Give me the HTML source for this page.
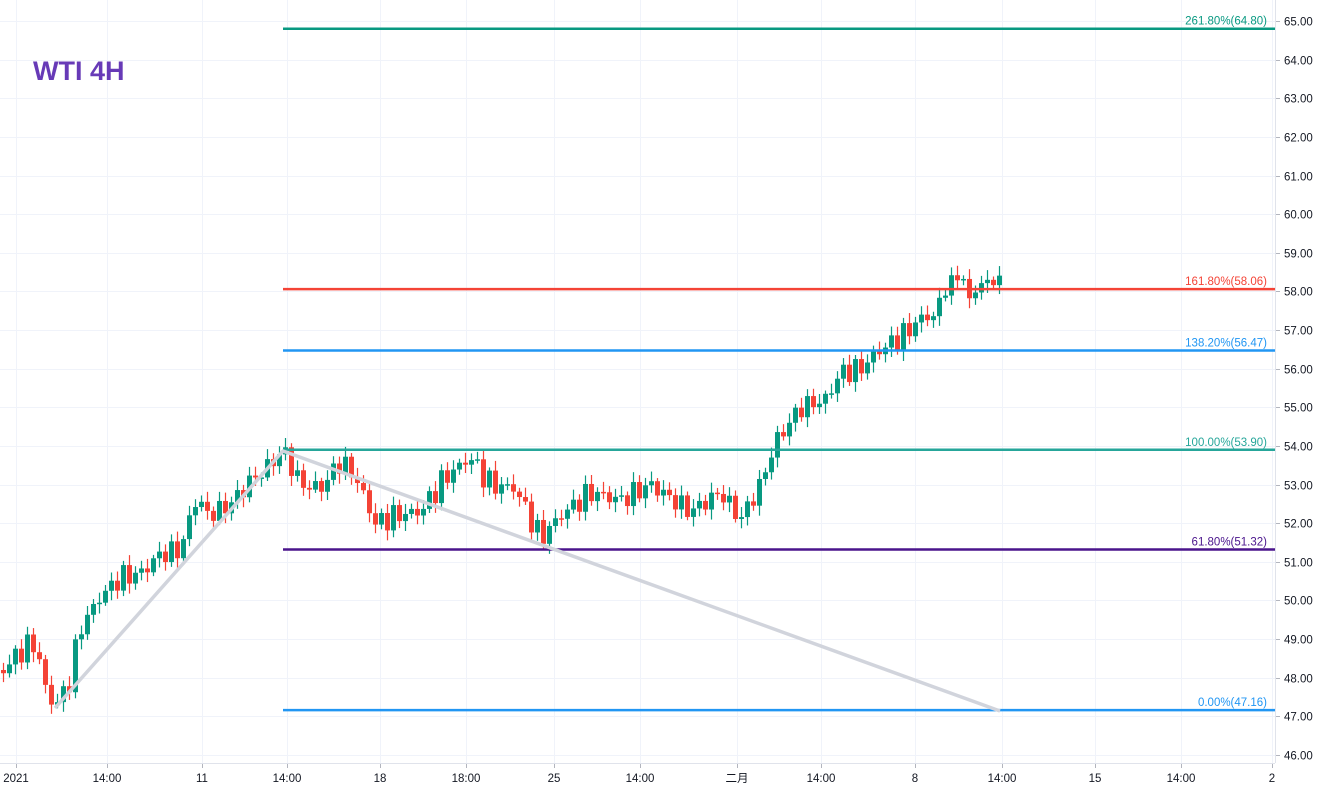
<!DOCTYPE html>
<html><head><meta charset="utf-8">
<style>
html,body{margin:0;padding:0;background:#fff;}
svg{display:block;font-family:"Liberation Sans","Noto Sans CJK SC",sans-serif;}
</style></head>
<body>
<svg id="c" width="1321" height="789" xmlns="http://www.w3.org/2000/svg">
<rect width="1321" height="789" fill="#fff"/>
<g id="grid" stroke="#f0f3fa" stroke-width="1"></g>
<g id="cand"></g>
<g id="fib"></g>
<polyline points="55,708 283,451 1000,711" fill="none" stroke="#d1d4dc" stroke-width="3.5" stroke-linejoin="round"/>
<line x1="1275.5" y1="0" x2="1275.5" y2="763" stroke="#e0e3eb"/>
<line x1="0" y1="763.5" x2="1275" y2="763.5" stroke="#e0e3eb"/>
<g id="axis" font-size="11.5" fill="#131722"></g>
<text x="33" y="80" font-size="27" font-weight="bold" fill="#673ab7">WTI 4H</text>
</svg>
<script>
var NS="http://www.w3.org/2000/svg";
function Y(p){return 21+(65-p)*38.63;}
function el(par,tag,at,txt){var e=document.createElementNS(NS,tag);for(var k in at)e.setAttribute(k,at[k]);if(txt!==undefined)e.textContent=txt;document.getElementById(par).appendChild(e);return e;}
for(var p=46;p<=65;p++){var y=Math.round(Y(p))+0.5;el("grid","line",{x1:0,x2:1275,y1:y,y2:y});
 el("axis","line",{x1:1276,x2:1280,y1:y,y2:y,stroke:"#b2b5be"});
 el("axis","text",{x:1284,y:y+4},p.toFixed(2));}
var xs=[[16,"2021"],[107,"14:00"],[202,"11"],[287,"14:00"],[380,"18"],[466,"18:00"],[554,"25"],[640,"14:00"],[737,"二月"],[821,"14:00"],[915,"8"],[1002,"14:00"],[1095,"15"],[1181,"14:00"],[1272,"2"]];
xs.forEach(function(a){var x=a[0]+0.5;el("grid","line",{x1:x,x2:x,y1:0,y2:763});
 el("axis","line",{x1:x,x2:x,y1:764,y2:768,stroke:"#b2b5be"});
 el("axis","text",{x:a[0],y:782,"text-anchor":"middle"},a[1]);});
var A=[[3,48.2],[20,48.7],[35,48.9],[47,47.5],[55,47.3],[68,47.8],[80,49.3],[100,50.1],[120,50.6],[140,50.7],[160,51.2],[180,51.3],[195,52.6],[210,52.2],[230,52.5],[250,53.1],[265,53.4],[283,53.9],[300,53],[320,52.9],[340,53.6],[355,53.2],[375,52],[395,52.2],[420,52.3],[445,53.2],[470,53.7],[490,53.0],[515,52.9],[540,51.6],[560,52.2],[590,52.8],[620,52.6],[650,53.0],[690,52.3],[720,52.8],[740,52.1],[760,53.0],[775,54.1],[800,55.0],[825,55.2],[840,55.9],[860,56.0],[880,56.5],[900,56.8],[920,57.3],[935,57.4],[950,58.3],[962,58.4],[970,57.7],[978,58.2],[1000,58.3]];
function interp(x){for(var i=0;i<A.length-1;i++){if(x<=A[i+1][0]){var t=(x-A[i][0])/(A[i+1][0]-A[i][0]);return A[i][1]+t*(A[i+1][1]-A[i][1]);}}return A[A.length-1][1];}
var prev=interp(3);
for(var x=3;x<=1000;x+=6){
 var amp=x>940?0.08:0.22;
 var c=interp(x)+amp*Math.sin(x*1.7)+0.12*Math.sin(x*0.53)*(x>940?0.3:1);
 var o=prev;var hi=Math.max(o,c)+0.08+0.18*Math.abs(Math.sin(x*2.3));
 var lo=Math.min(o,c)-0.08-0.18*Math.abs(Math.cos(x*1.9));
 var col=c>=o?"#089981":"#f44336";
 el("cand","line",{x1:x+0.5,x2:x+0.5,y1:Y(hi),y2:Y(lo),stroke:col,"stroke-width":1.2});
 var yt=Y(Math.max(o,c)),yb=Y(Math.min(o,c));if(yb-yt<1.5)yb=yt+1.5;
 el("cand","rect",{x:x-2,y:yt,width:5,height:yb-yt,fill:col});
 prev=c;}
var F=[[64.80,"261.80%(64.80)","#089981"],[58.06,"161.80%(58.06)","#f44336"],[56.47,"138.20%(56.47)","#2196f3"],[53.90,"100.00%(53.90)","#26a69a"],[51.32,"61.80%(51.32)","#4a148c"],[47.16,"0.00%(47.16)","#2196f3"]];
F.forEach(function(f){var y=Y(f[0]);el("fib","line",{x1:283,x2:1275,y1:y,y2:y,stroke:f[2],"stroke-width":2.5});
 el("fib","text",{x:1267,y:y-4,"text-anchor":"end","font-size":"11.5",fill:f[2]},f[1]);});
</script>
</body></html>
